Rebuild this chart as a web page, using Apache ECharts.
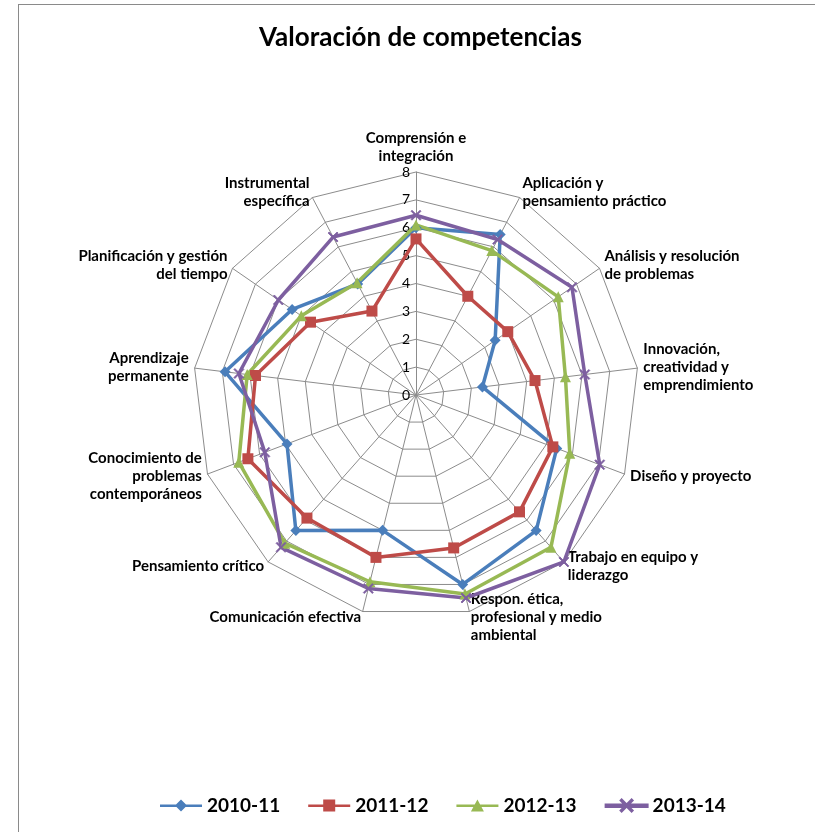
<!DOCTYPE html>
<html>
<head>
<meta charset="utf-8">
<script src="https://cdn.jsdelivr.net/npm/echarts@6/dist/echarts.min.js"></script>
<style>
  html, body { margin: 0; padding: 0; background: #fff; }
  #main { width: 815px; height: 832px; position: absolute; left: 0; top: 0; }
  #frame { position: absolute; left: 18px; top: 4px; width: 820px; height: 840px;
           border-left: 1.5px solid #8a8a8a; border-top: 1.5px solid #8a8a8a; pointer-events: none; }
</style>
</head>
<body>
<div id="main"></div>
<div id="frame"></div>
<script>
// competencies, clockwise from the top
var categories = [
  'Comprensión e\nintegración',
  'Aplicación y\npensamiento práctico',
  'Análisis y resolución\nde problemas',
  'Innovación,\ncreatividad y\nemprendimiento',
  'Diseño y proyecto',
  'Trabajo en equipo y\nliderazgo',
  'Respon. ética,\nprofesional y medio\nambiental',
  'Comunicación efectiva',
  'Pensamiento crítico',
  'Conocimiento de\nproblemas\ncontemporáneos',
  'Aprendizaje\npermanente',
  'Planificación y gestión\ndel tiempo',
  'Instrumental\nespecífica'
];
var years = ['2010-11', '2011-12', '2012-13', '2013-14'];
var v2010 = [6.0, 6.5, 3.45, 2.4, 5.4, 6.5, 7.0, 5.0, 6.5, 4.95, 6.9, 5.4, 4.5];
var v2011 = [5.6, 4.0, 4.0, 4.3, 5.25, 5.6, 5.65, 6.0, 5.9, 6.45, 5.8, 4.6, 3.4];
var v2012 = [6.1, 5.85, 6.2, 5.4, 5.9, 7.3, 7.35, 6.9, 7.1, 6.8, 6.1, 5.0, 4.55];
var v2013 = [6.45, 6.3, 6.8, 6.1, 7.05, 8.0, 7.5, 7.15, 7.3, 5.8, 6.4, 6.0, 6.4];
var maxValue = 8;

var colors = ['#4A7EBB', '#BE4B48', '#98B954', '#7D5FA0'];
var symbols = [
  'diamond',
  'rect',
  'triangle',
  'path://M0,1 L1,0 L5,4 L9,0 L10,1 L6,5 L10,9 L9,10 L5,6 L1,10 L0,9 L4,5 Z'
];
var symbolSizes = [11, 11, 11, 10];
var legendIcons = [
  'path://M0,5 H42 V7.5 H0 Z M21,0 L27,6 L21,12 L15,6 Z',
  'path://M0,5 H42 V7.5 H0 Z M15,0 H27 V12 H15 Z',
  'path://M0,5 H42 V7.5 H0 Z M21,0 L27.5,12 L14.5,12 Z',
  'path://M0,5 H42 V7.5 H0 Z M15,1 L16,0 L21,5 L26,0 L27,1 L22,6 L27,11 L26,12 L21,7 L16,12 L15,11 L20,6 Z'
];

// echarts lays radar axes counter-clockwise, so reverse everything after the first
function clockwise(arr) {
  return [arr[0]].concat(arr.slice(1).reverse());
}

var allValues = [v2010, v2011, v2012, v2013];

var indicator = clockwise(categories).map(function (name, i) {
  var ind = { name: name, max: maxValue, min: 0 };
  if (i === 0) {
    ind.axisLabel = { show: true };
  }
  return ind;
});

var series = years.map(function (y, i) {
  return {
    type: 'radar',
    name: y,
    symbol: symbols[i],
    symbolSize: symbolSizes[i],
    lineStyle: { width: 3.5, color: colors[i] },
    itemStyle: { color: colors[i], borderColor: colors[i], borderWidth: i === 3 ? 0.8 : 0 },
    data: [{ name: y, value: clockwise(allValues[i]) }]
  };
});

var myChart = echarts.init(document.getElementById('main'));
myChart.setOption({
  backgroundColor: '#ffffff',
  animation: false,
  color: colors,
  title: {
    text: 'Valoración de competencias',
    left: 254,
    top: 20,
    textStyle: { fontFamily: 'Lato', fontWeight: 'bold', fontSize: 26, color: '#000' }
  },
  legend: {
    bottom: 12,
    left: 155,
    itemGap: 28,
    itemWidth: 42,
    itemHeight: 12,
    data: years.map(function (y, i) { return { name: y, icon: legendIcons[i] }; }),
    textStyle: { fontFamily: 'Lato', fontWeight: 'bold', fontSize: 19, color: '#000' }
  },
  radar: {
    center: [416, 395],
    radius: 223,
    startAngle: 90,
    shape: 'polygon',
    splitNumber: 8,
    indicator: indicator,
    axisName: {
      color: '#000',
      fontFamily: 'Lato',
      fontWeight: 'bold',
      fontSize: 15,
      lineHeight: 18
    },
    nameGap: 6,
    axisLine: { lineStyle: { color: '#8c8c8c', width: 1 } },
    splitLine: { lineStyle: { color: '#8c8c8c', width: 1 } },
    splitArea: { show: false },
    axisTick: { show: false },
    axisLabel: {
      show: false,
      color: '#000',
      fontFamily: 'Lato',
      fontSize: 14,
      margin: 6,
      showMinLabel: true,
      showMaxLabel: true
    }
  },
  series: series
});
</script>
</body>
</html>
